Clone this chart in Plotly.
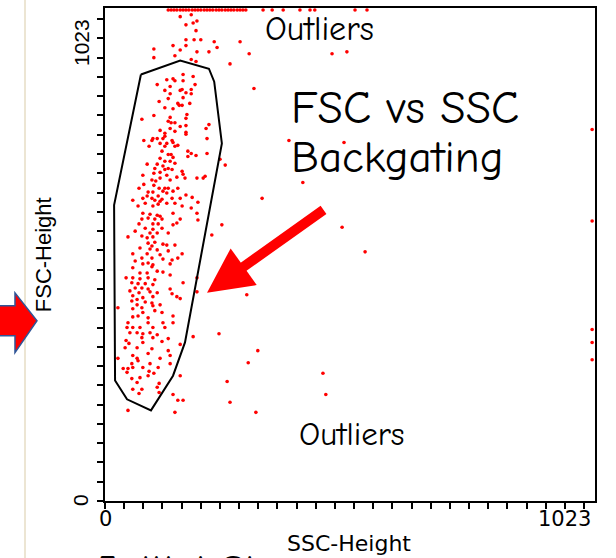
import plotly.graph_objects as go

# ---------------- data (channel units 0-1023) ----------------
AXIS_MAX = 1023
tick_step = 40
axis_tick_labels = ["0", "1023"]
x_title = "SSC-Height"
y_title = "FSC-Height"

# events saturated at FSC = top of scale
saturated_fsc = 1019
saturated_ssc = [132, 138, 144, 150, 157, 163, 169, 175, 182, 188, 194, 200, 207, 213,
                 219, 225, 232, 238, 244, 251, 257, 263, 269, 276, 282, 288, 294, 330,
                 349, 372, 407, 428, 438, 522, 547]

# events saturated at SSC = right of scale
saturated_ssc_edge = 1017
edge_fsc = [771, 581, 356, 329, 293]

# (SSC, FSC) events above the gate
upper_events = [
    (157, 1005), (180, 1009), (192, 996), (184, 992), (169, 988), (190, 976), (169, 957),
    (186, 957), (200, 957), (228, 953), (282, 953), (142, 945), (169, 945), (102, 938),
    (157, 936), (192, 932), (217, 932), (234, 941), (301, 928), (146, 924), (102, 920),
    (180, 916), (190, 912), (261, 907),
]

# (SSC, FSC) events in the main cloud
cloud_events = [
    (163, 885), (184, 881), (142, 876), (129, 874), (146, 872), (163, 872), (109, 864),
    (188, 864), (136, 860), (161, 854), (157, 852), (125, 852), (180, 854), (169, 847),
    (180, 845), (136, 845), (132, 835), (163, 837), (113, 829), (152, 825), (177, 825),
    (161, 821), (125, 816), (142, 814), (155, 821), (102, 800), (136, 796), (171, 802),
    (169, 794), (77, 792), (132, 788), (138, 785), (146, 785), (217, 781), (157, 777),
    (169, 779), (211, 773), (115, 769), (136, 773), (125, 763), (146, 767), (169, 765),
    (169, 761), (125, 757), (109, 752), (100, 752), (121, 752), (81, 748), (98, 748),
    (140, 748), (213, 752), (115, 742), (129, 742), (142, 744), (92, 736), (125, 736),
    (146, 736), (152, 738), (119, 726), (173, 726), (180, 721), (132, 719), (138, 719),
    (190, 717), (213, 721), (173, 715), (115, 711), (142, 713), (240, 709), (125, 705),
    (136, 705), (146, 701), (88, 699), (109, 699), (121, 695), (251, 697), (104, 690),
    (132, 690), (140, 688), (125, 688), (161, 684), (163, 678), (79, 676), (115, 682),
    (102, 680), (129, 676), (150, 672), (167, 670), (192, 670), (209, 674), (205, 670),
    (98, 666), (106, 664), (115, 670), (136, 666), (81, 657), (102, 655), (125, 649),
    (132, 649), (113, 649), (152, 649), (71, 649), (90, 641), (100, 641), (121, 643),
    (129, 639), (142, 643), (169, 635), (88, 633), (111, 633), (182, 630), (79, 628),
    (98, 628), (119, 626), (140, 628), (157, 628), (58, 624), (104, 624), (115, 622),
    (194, 620), (129, 618), (146, 618), (69, 612), (100, 612), (111, 616), (84, 618),
    (161, 612), (180, 608), (79, 597), (94, 595), (109, 593), (115, 591), (142, 597),
    (192, 597), (77, 585), (90, 587), (104, 585), (119, 585), (157, 585), (194, 583),
    (71, 575), (100, 575), (111, 575), (150, 577), (244, 573), (84, 566), (100, 564),
    (119, 566), (142, 573), (63, 560), (94, 556), (109, 556), (132, 556), (48, 548),
    (77, 550), (88, 546), (100, 548), (223, 552), (90, 535), (104, 537), (121, 533),
    (98, 529), (129, 531), (146, 531), (73, 525), (94, 523), (109, 521), (132, 519),
    (161, 513), (58, 513), (88, 513), (115, 511), (77, 504), (98, 504), (121, 502),
    (140, 500), (152, 504), (63, 498), (79, 492), (90, 494), (100, 490), (136, 492),
    (58, 484), (98, 486), (109, 477), (121, 475), (73, 473), (88, 473), (136, 469),
    (44, 463), (58, 463), (73, 461), (90, 463), (104, 459), (163, 453), (192, 463),
    (56, 453), (69, 451), (84, 451), (100, 449), (63, 442), (77, 442), (90, 440),
    (136, 440), (52, 436), (71, 432), (94, 434), (109, 432), (140, 430), (192, 434),
    (58, 426), (79, 422), (100, 424), (150, 424), (157, 420), (56, 415), (67, 418),
    (84, 413), (98, 411), (27, 401), (67, 407), (77, 401), (100, 405), (115, 407),
    (58, 399), (79, 391), (104, 395), (119, 391), (142, 384), (58, 382), (69, 384),
    (90, 380), (90, 370), (121, 370), (142, 370), (48, 370), (46, 360), (58, 360),
    (73, 360), (100, 360), (125, 360), (52, 349), (67, 349), (79, 347), (94, 349),
    (184, 341), (77, 339), (109, 345), (100, 339), (132, 337), (44, 333), (119, 331),
    (157, 325), (50, 327), (79, 329), (42, 318), (67, 318), (98, 316), (90, 306),
    (58, 302), (132, 312), (136, 302), (27, 296), (67, 296), (115, 296), (56, 285),
    (69, 291), (94, 285), (136, 285), (38, 275), (48, 275), (58, 277), (79, 277),
    (111, 277), (46, 267), (92, 269), (102, 265), (73, 256), (56, 254), (90, 260),
    (157, 260), (67, 246), (113, 244), (58, 232), (77, 232), (109, 236), (71, 223),
    (113, 225), (142, 221), (152, 209), (163, 209), (48, 188), (146, 184),
]

# (SSC, FSC) scattered outlier events
scattered_events = [
    (296, 428), (238, 347), (299, 287), (255, 248), (261, 205), (319, 312), (315, 184),
    (455, 265), (461, 221), (474, 928), (505, 932), (499, 744), (413, 661), (495, 568),
    (543, 517), (311, 856), (384, 748), (328, 628),
]

# backgating gate polygon (SSC, FSC)
gate_ssc = [75, 157, 217, 228, 244, 167, 142, 96, 46, 21, 19, 75]
gate_fsc = [885, 914, 897, 870, 742, 329, 260, 188, 211, 250, 614, 885]

# ---------------- assemble events ----------------
ssc_vals = list(saturated_ssc) + [saturated_ssc_edge] * len(edge_fsc)
fsc_vals = [saturated_fsc] * len(saturated_ssc) + list(edge_fsc)
for group in (upper_events, cloud_events, scattered_events):
    ssc_vals += [p[0] for p in group]
    fsc_vals += [p[1] for p in group]

fig = go.Figure()
fig.add_trace(go.Scatter(
    x=ssc_vals, y=fsc_vals, mode="markers",
    marker=dict(size=3.6, color="#ff0000", line=dict(width=0)),
    hoverinfo="skip", showlegend=False,
))
fig.add_trace(go.Scatter(
    x=gate_ssc, y=gate_fsc, mode="lines",
    line=dict(color="black", width=2),
    hoverinfo="skip", showlegend=False,
))

axis_common = dict(
    range=[0, AXIS_MAX], showline=True, linecolor="black", linewidth=2, mirror=True,
    ticks="outside", tickmode="array", tickvals=list(range(0, AXIS_MAX + 1, tick_step)),
    ticklen=6, tickwidth=2, tickcolor="black", showticklabels=False,
    showgrid=False, zeroline=False, fixedrange=True,
)

label_font_h = dict(family="DejaVu Sans", size=21, color="black")
label_font_v = dict(family="Liberation Sans, Arial", size=21, color="black")
comic = "Comic Sans MS, Comic Neue, Noto Sans"

annotations = [
    # slide text partly hidden below the chart (clipped to its visible part)
    dict(text="Initial Singlets", x=-0.017, y=-0.088, xref="paper", yref="paper",
         showarrow=False, font=dict(family=comic, size=44, color="black"),
         xanchor="left", yanchor="top", width=172, align="left"),
    # tick labels
    dict(text=axis_tick_labels[0], x=0.002, y=-0.036, xref="paper", yref="paper",
         showarrow=False, font=label_font_h, xanchor="center", yanchor="middle"),
    dict(text=axis_tick_labels[1], x=0.937, y=-0.036, xref="paper", yref="paper",
         showarrow=False, font=label_font_h, xanchor="center", yanchor="middle"),
    dict(text=axis_tick_labels[0], x=-0.051, y=0.002, xref="paper", yref="paper",
         showarrow=False, font=label_font_v, textangle=-90, xanchor="center", yanchor="middle"),
    dict(text=axis_tick_labels[1], x=-0.049, y=0.931, xref="paper", yref="paper",
         showarrow=False, font=label_font_v, textangle=-90, xanchor="center", yanchor="middle"),
    # axis titles
    dict(text=y_title, x=-0.124, y=0.499, xref="paper", yref="paper", showarrow=False,
         font=dict(family="Liberation Sans, Arial", size=22, color="black"), textangle=-90,
         xanchor="center", yanchor="middle"),
    dict(text=x_title, x=0.498, y=-0.087, xref="paper", yref="paper", showarrow=False,
         font=dict(family="DejaVu Sans", size=22, color="black"),
         xanchor="center", yanchor="middle"),
    # overlay texts
    dict(text="Outliers", x=0.437, y=0.957, xref="paper", yref="paper", showarrow=False,
         font=dict(family=comic, size=34, color="black"), xanchor="center", yanchor="middle"),
    dict(text="Outliers", x=0.504, y=0.135, xref="paper", yref="paper", showarrow=False,
         font=dict(family=comic, size=33, color="black"), xanchor="center", yanchor="middle"),
    dict(text="FSC vs SSC", x=0.375, y=0.797, xref="paper", yref="paper", showarrow=False,
         font=dict(family=comic, size=46, color="black"), xanchor="left", yanchor="middle"),
    dict(text="Backgating", x=0.375, y=0.698, xref="paper", yref="paper", showarrow=False,
         font=dict(family=comic, size=45, color="black"), xanchor="left", yanchor="middle"),
    # red pointer arrow
    dict(text="", x=213, y=432, xref="x", yref="y", ax=118, ay=-84, showarrow=True,
         arrowhead=2, arrowsize=0.9, arrowwidth=10, arrowcolor="#ff0000", standoff=0),
]

shapes = [
    dict(type="line", xref="paper", yref="paper", x0=-0.1633, x1=-0.1633, y0=-0.13, y1=1.02,
         line=dict(color="#ece5d3", width=2)),
    dict(type="path", xref="paper", yref="paper",
         path="M -0.2245,0.396 L -0.1837,0.396 L -0.1837,0.4222 L -0.1388,0.3657 "
              "L -0.1837,0.301 L -0.1837,0.3354 L -0.2245,0.3354 Z",
         fillcolor="#ff0000", line=dict(color="#2f5597", width=1.5)),
]

fig.update_layout(
    width=616, height=558,
    margin=dict(l=105, r=21, t=6, b=57),
    paper_bgcolor="white", plot_bgcolor="white",
    xaxis=axis_common, yaxis=axis_common,
    annotations=annotations, shapes=shapes,
    showlegend=False,
)

fig.write_html(
    "out.html",
    config={"displayModeBar": False, "staticPlot": True},
    post_script="document.body.style.margin='0';document.body.style.overflow='hidden';",
)
